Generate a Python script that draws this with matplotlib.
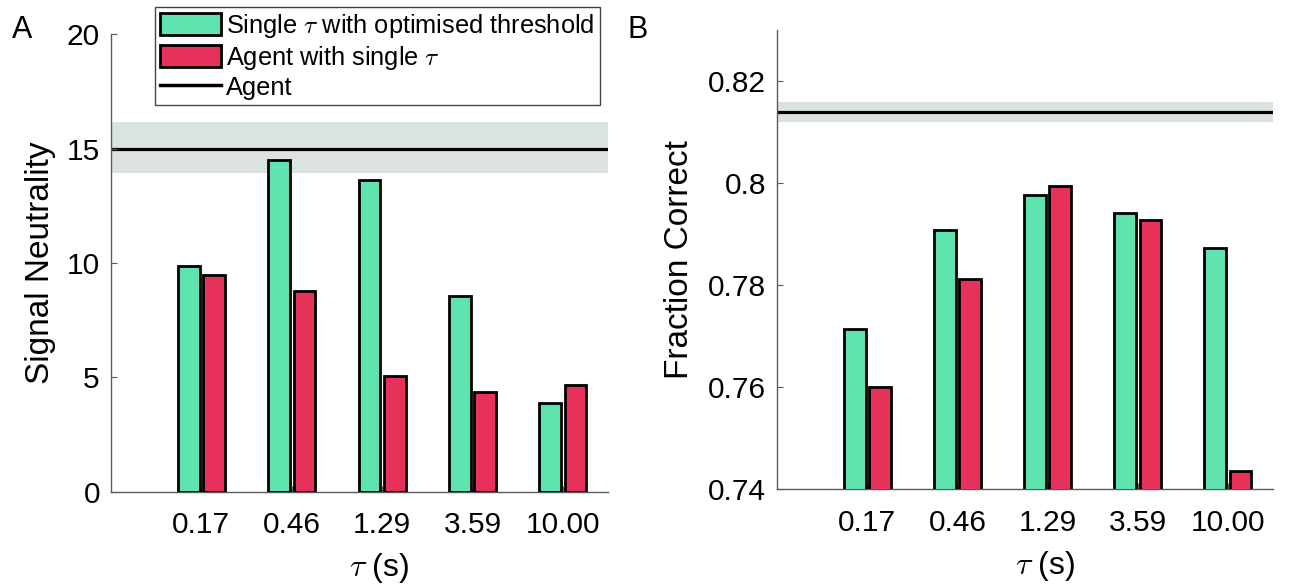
"""Signal neutrality and fraction correct for single-tau agents vs the full agent."""

import numpy as np
import matplotlib
matplotlib.use('Agg')
import matplotlib.pyplot as plt
from matplotlib.patches import Patch
from matplotlib.lines import Line2D

plt.rcParams['font.family'] = ['Liberation Sans', 'DejaVu Sans']
plt.rcParams['mathtext.fontset'] = 'cm'

taus = ['0.17', '0.46', '1.29', '3.59', '10.00']

# panel A: signal neutrality
sn_optimised = [9.88, 14.50, 13.62, 8.57, 3.90]
sn_single = [9.48, 8.78, 5.04, 4.37, 4.65]
sn_agent = 15.0
sn_agent_band = (13.95, 16.15)

# panel B: fraction correct
fc_optimised = [0.7715, 0.7909, 0.7977, 0.7942, 0.7874]
fc_single = [0.7601, 0.7812, 0.7994, 0.7928, 0.7436]
fc_agent = 0.8139
fc_agent_band = (0.8120, 0.8159)

GREEN = '#5fe3ae'
RED = '#e6325a'
BAND = '#dbe3e0'
AXCOL = '#5a5a5a'

BAR_W = 0.24
OFFSET = 0.14


def draw_panel(ax, optimised, single, agent, band, ylim, yticks, yticklabels):
    x = np.arange(1, len(taus) + 1)
    ax.axhspan(band[0], band[1], color=BAND, zorder=0, lw=0)
    ax.axhline(agent, color='black', lw=2.3, zorder=1)
    ax.bar(x - OFFSET, optimised, BAR_W, color=GREEN, edgecolor='black',
           linewidth=2.0, zorder=3)
    ax.bar(x + OFFSET, single, BAR_W, color=RED, edgecolor='black',
           linewidth=2.0, zorder=3)
    ax.set_xlim(0, 5.5)
    ax.set_ylim(*ylim)
    ax.set_xticks(x)
    ax.set_xticklabels(taus)
    ax.set_yticks(yticks)
    ax.set_yticklabels(yticklabels)
    for side in ['top', 'right']:
        ax.spines[side].set_visible(False)
    for side in ['left', 'bottom']:
        ax.spines[side].set_color(AXCOL)
        ax.spines[side].set_linewidth(1.0)
    ax.tick_params(axis='both', direction='in', length=4.5, width=0.8,
                   color=AXCOL, labelsize=21.5)
    ax.tick_params(axis='y', pad=8)
    ax.tick_params(axis='x', pad=14)
    ax.set_xlabel(r'$\tau$ (s)', fontsize=23)
    ax.xaxis.set_label_coords(0.54, -0.13)


fig = plt.figure(figsize=(12.91, 5.88), dpi=100)
ax_a = fig.add_axes([0.086, 0.1637, 0.385, 0.7783])
ax_b = fig.add_axes([0.602, 0.1678, 0.384, 0.7807])

draw_panel(ax_a, sn_optimised, sn_single, sn_agent, sn_agent_band,
           (0, 20), [0, 5, 10, 15, 20], ['0', '5', '10', '15', '20'])
ax_a.set_ylabel('Signal Neutrality', fontsize=24)
ax_a.yaxis.set_label_coords(-0.11, 0.5)

draw_panel(ax_b, fc_optimised, fc_single, fc_agent, fc_agent_band,
           (0.74, 0.83), [0.74, 0.76, 0.78, 0.80, 0.82],
           ['0.74', '0.76', '0.78', '0.8', '0.82'])
ax_b.set_ylabel('Fraction Correct', fontsize=24)
ax_b.yaxis.set_label_coords(-0.165, 0.5)

fig.text(12 / 1291, 1 - 30 / 588, 'A', fontsize=22, va='center', ha='left')
fig.text(628 / 1291, 1 - 30 / 588, 'B', fontsize=22, va='center', ha='left')

handles = [
    Patch(facecolor=GREEN, edgecolor='black', linewidth=2.0),
    Patch(facecolor=RED, edgecolor='black', linewidth=2.0),
    Line2D([0], [0], color='black', lw=2.5),
]
labels = [r'Single $\tau$ with optimised threshold',
          r'Agent with single $\tau$',
          'Agent']
leg = fig.legend(handles, labels, loc='upper left',
                 bbox_to_anchor=(155 / 1291, 1 - 7 / 588),
                 bbox_transform=fig.transFigure, borderaxespad=0,
                 fontsize=18.3, handlelength=2.4, handleheight=0.95,
                 handletextpad=0.2, labelspacing=0.14, borderpad=0.2,
                 fancybox=False, framealpha=1, edgecolor='#444444')
leg.get_frame().set_linewidth(1.0)

fig.savefig('out.png', dpi=100)
